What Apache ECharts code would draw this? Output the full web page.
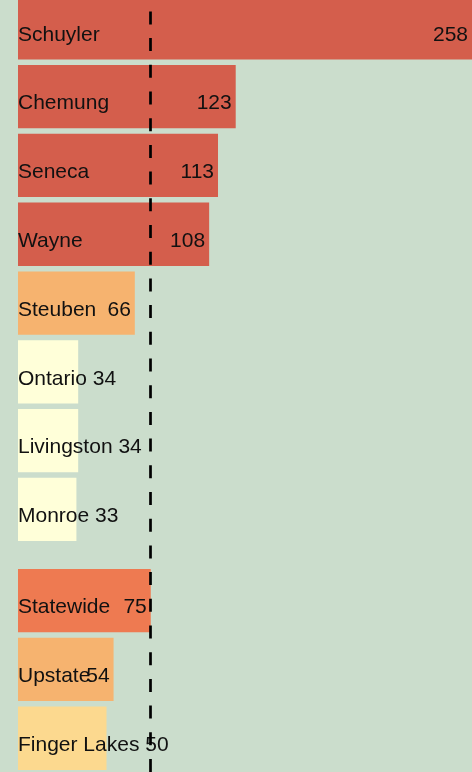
<!DOCTYPE html>
<html>
<head>
<meta charset="utf-8">
<script src="https://cdn.jsdelivr.net/npm/echarts@6/dist/echarts.min.js"></script>
<style>
html,body{margin:0;padding:0;background:#cbddcc;}
#chart{width:472px;height:772px;}
</style>
</head>
<body>
<div id="chart"></div>
<script>
// ---- data ----
const countyNames = ['Schuyler', 'Chemung', 'Seneca', 'Wayne', 'Steuben', 'Ontario', 'Livingston', 'Monroe'];
const countyValues = [258, 123, 113, 108, 66, 34, 34, 33];
const regionNames = ['Statewide', 'Upstate', 'Finger Lakes'];
const regionValues = [75, 54, 50];
const referenceValue = 75; // statewide reference line

// ---- styles ----
const countyColors = ['#d45e4c', '#d45e4c', '#d45e4c', '#d45e4c', '#f6b36f', '#ffffd9', '#ffffd9', '#ffffd9'];
const regionColors = ['#ee7a51', '#f6b36f', '#fcd98f'];
const FONT_FAMILY = '"Liberation Sans", Arial, sans-serif';
const FONT_SIZE = 21;
const LEFT = 18, XMAX = 256.5, PLOT_W = 454, PITCH = 68.8;

const ctx = document.createElement('canvas').getContext('2d');
ctx.font = FONT_SIZE + 'px ' + FONT_FAMILY;
function textW(s) { return ctx.measureText(s).width; }

// which bars are too short to hold their name (filled after first layout)
const shortFlags = [countyNames.map(() => false), regionNames.map(() => false)];

const labelText = { color: '#111', fontFamily: FONT_FAMILY, fontSize: FONT_SIZE };

function makeSeries(gi, names, values, colors) {
  return [
    {
      type: 'bar', xAxisIndex: gi, yAxisIndex: gi,
      data: values.map((v, i) => ({ value: v, itemStyle: { color: colors[i] } })),
      barCategoryGap: '8%',
      label: Object.assign({ show: true, position: 'insideLeft', distance: 0, offset: [0, 7],
        formatter: p => shortFlags[gi][p.dataIndex] ? names[p.dataIndex] + ' ' + p.value : names[p.dataIndex] }, labelText),
      silent: true, animation: false
    },
    {
      type: 'bar', xAxisIndex: gi, yAxisIndex: gi,
      data: values,
      barGap: '-100%', barCategoryGap: '8%',
      itemStyle: { color: 'rgba(0,0,0,0)' },
      label: Object.assign({ show: true, position: 'insideRight', distance: 4, offset: [0, 7],
        formatter: p => shortFlags[gi][p.dataIndex] ? '' : String(p.value) }, labelText),
      silent: true, animation: false, z: 3
    }
  ];
}

const chart = echarts.init(document.getElementById('chart'), null, { renderer: 'canvas' });

const hiddenX = gi => ({ type: 'value', gridIndex: gi, min: 0, max: XMAX, show: false, splitLine: { show: false } });
const hiddenY = (gi, cats) => ({ type: 'category', gridIndex: gi, data: cats, inverse: true, show: false });

const topH = countyNames.length * PITCH;
const botH = regionNames.length * PITCH;
const topStart = 65 - PITCH - PITCH * 0.04;
const botStart = 569 - PITCH * 0.04;

function buildOption() {
  return {
    backgroundColor: '#cbddcc',
    animation: false,
    grid: [
      { left: LEFT, top: topStart, width: PLOT_W, height: topH, outerBoundsMode: 'none' },
      { left: LEFT, top: botStart, width: PLOT_W, height: botH, outerBoundsMode: 'none' },
      { left: LEFT, top: 0, width: PLOT_W, height: 772, outerBoundsMode: 'none' }
    ],
    xAxis: [hiddenX(0), hiddenX(1), hiddenX(2)],
    yAxis: [hiddenY(0, countyNames), hiddenY(1, regionNames),
      { type: 'value', gridIndex: 2, min: 0, max: 1, show: false, splitLine: { show: false } }],
    series: [
      ...makeSeries(0, countyNames, countyValues, countyColors),
      ...makeSeries(1, regionNames, regionValues, regionColors),
      {
        type: 'scatter', xAxisIndex: 2, yAxisIndex: 2, data: [], silent: true, z: 10,
        markLine: {
          silent: true, symbol: 'none', animation: false,
          label: { show: false },
          lineStyle: { color: '#000', width: 2.7, type: [13, 13.7], dashOffset: 0 },
          data: [{ xAxis: referenceValue }]
        }
      }
    ]
  };
}

chart.setOption(buildOption());

// second pass: decide label placement from the bar pixel widths
[[countyNames, countyValues], [regionNames, regionValues]].forEach(([names, values], gi) => {
  const x0 = chart.convertToPixel({ xAxisIndex: gi }, 0);
  values.forEach((v, i) => {
    const w = chart.convertToPixel({ xAxisIndex: gi }, v) - x0;
    shortFlags[gi][i] = w < textW(names[i]);
  });
});
chart.setOption(buildOption(), true);
</script>
</body>
</html>
